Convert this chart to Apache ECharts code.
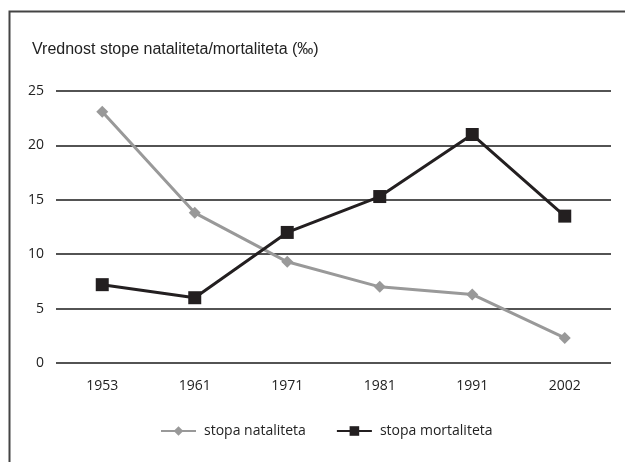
<!DOCTYPE html>
<html>
<head>
<meta charset="utf-8">
<script src="https://cdn.jsdelivr.net/npm/echarts@6/dist/echarts.min.js"></script>
<style>
  html, body { margin: 0; padding: 0; background: #fff; }
  #main { width: 625px; height: 462px; }
</style>
</head>
<body>
<div id="main"></div>
<script>
var years = ['1953', '1961', '1971', '1981', '1991', '2002'];
var natalitet = [23.1, 13.8, 9.3, 7.0, 6.3, 2.3];
var mortalitet = [7.2, 6.0, 12.0, 15.3, 21.0, 13.5];

var chart = echarts.init(document.getElementById('main'));

var option = {
  animation: false,
  title: {
    text: 'Vrednost stope nataliteta/mortaliteta (‰)',
    left: 27,
    top: 37,
    textStyle: {
      fontFamily: '"Liberation Sans", sans-serif',
      fontSize: 16,
      fontWeight: 'normal',
      color: '#222'
    }
  },
  graphic: [{
    type: 'rect',
    shape: { x: 9.5, y: 11.5, width: 640, height: 470 },
    style: { fill: 'none', stroke: '#444', lineWidth: 2 },
    silent: true
  }],
  legend: {
    bottom: 19,
    left: 155,
    itemGap: 30,
    itemWidth: 35,
    itemHeight: 12,
    textStyle: { fontFamily: '"Open Sans", sans-serif', fontSize: 14, color: '#222', padding: [0, 0, 0, 3] },
    data: ['stopa nataliteta', 'stopa mortaliteta']
  },
  grid: { left: 56, right: 14, top: 91, bottom: 99, containLabel: false },
  xAxis: {
    type: 'category',
    data: years,
    boundaryGap: true,
    axisLine: { show: false },
    axisTick: { show: false },
    axisLabel: { margin: 16, fontFamily: '"Open Sans", sans-serif', fontSize: 14, color: '#222' }
  },
  yAxis: {
    type: 'value',
    min: 0,
    max: 25,
    interval: 5,
    axisLine: { show: false },
    axisTick: { show: false },
    axisLabel: { margin: 12, fontFamily: '"Open Sans", sans-serif', fontSize: 14, color: '#222' },
    splitLine: { lineStyle: { color: '#1a1a1a', width: 1.5 } }
  },
  series: [
    {
      name: 'stopa nataliteta',
      type: 'line',
      data: natalitet,
      symbol: 'diamond',
      symbolSize: 12,
      color: '#999999',
      lineStyle: { width: 3, color: '#999999' },
      itemStyle: { color: '#999999' }
    },
    {
      name: 'stopa mortaliteta',
      type: 'line',
      data: mortalitet,
      symbol: 'rect',
      symbolSize: 13,
      color: '#231f20',
      lineStyle: { width: 3, color: '#231f20' },
      itemStyle: { color: '#231f20' }
    }
  ]
};

chart.setOption(option);
</script>
</body>
</html>
